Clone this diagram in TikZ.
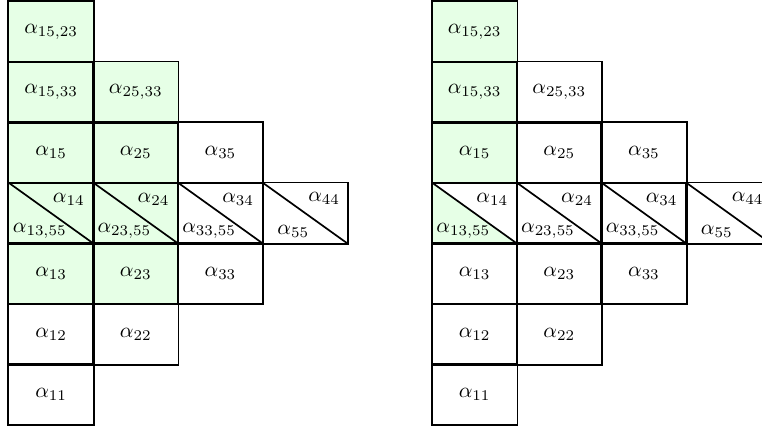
\documentclass[tikz,border=0pt]{standalone}
\definecolor{lightgreen}{RGB}{230,255,230}
\begin{document}
\begin{tikzpicture}[
  cell/.style={minimum width=1.4cm, minimum height=1cm, inner sep=0pt, anchor=south west},
  gcell/.style={cell, fill=lightgreen},
  border/.style={thick, line join=miter},
  diag/.style={thick},
  lab/.style={inner sep=0pt}
]
\useasboundingbox (-0.137,-0.044) rectangle (12.458,7.03);
\clip (-0.137,-0.044) rectangle (12.458,7.03);

% ---------- Left diagram ----------
\node[cell]  (L11) at (0,0)   {$\alpha_{11}$};
\node[cell]  (L12) at (0,1)   {$\alpha_{12}$};
\node[cell]  (L22) at (1.4,1) {$\alpha_{22}$};
\node[gcell] (L13) at (0,2)   {$\alpha_{13}$};
\node[gcell] (L23) at (1.4,2) {$\alpha_{23}$};
\node[cell]  (L33) at (2.8,2) {$\alpha_{33}$};
\node[gcell] (L14) at (0,3)   {};
\node[gcell] (L24) at (1.4,3) {};
\node[cell]  (L34) at (2.8,3) {};
\node[cell]  (L44) at (4.2,3) {};
\node[gcell] (L15) at (0,4)   {$\alpha_{15}$};
\node[gcell] (L25) at (1.4,4) {$\alpha_{25}$};
\node[cell]  (L35) at (2.8,4) {$\alpha_{35}$};
\node[gcell] (L1533) at (0,5)   {$\alpha_{15,33}$};
\node[gcell] (L2533) at (1.4,5) {$\alpha_{25,33}$};
\node[gcell] (L1523) at (0,6)   {$\alpha_{15,23}$};

% ---------- Right diagram ----------
\fill[lightgreen] (7,4) -- (8.4,3) -- (7,3) -- cycle;
\node[cell]  (R11) at (7,0)   {$\alpha_{11}$};
\node[cell]  (R12) at (7,1)   {$\alpha_{12}$};
\node[cell]  (R22) at (8.4,1) {$\alpha_{22}$};
\node[cell]  (R13) at (7,2)   {$\alpha_{13}$};
\node[cell]  (R23) at (8.4,2) {$\alpha_{23}$};
\node[cell]  (R33) at (9.8,2) {$\alpha_{33}$};
\node[cell]  (R14) at (7,3)   {};
\node[cell]  (R24) at (8.4,3) {};
\node[cell]  (R34) at (9.8,3) {};
\node[cell]  (R44) at (11.2,3) {};
\node[gcell] (R15) at (7,4)   {$\alpha_{15}$};
\node[cell]  (R25) at (8.4,4) {$\alpha_{25}$};
\node[cell]  (R35) at (9.8,4) {$\alpha_{35}$};
\node[gcell] (R1533) at (7,5)   {$\alpha_{15,33}$};
\node[cell]  (R2533) at (8.4,5) {$\alpha_{25,33}$};
\node[gcell] (R1523) at (7,6)   {$\alpha_{15,23}$};

% ---------- Borders (drawn after all fills) ----------
\foreach \c in {L11,L12,L22,L13,L23,L33,L14,L24,L34,L44,L15,L25,L35,L1533,L2533,L1523,
                R11,R12,R22,R13,R23,R33,R14,R24,R34,R44,R15,R25,R35,R1533,R2533,R1523}{
  \draw[border] (\c.south west) rectangle (\c.north east);
}

% ---------- Split cells ----------
\foreach \c in {L14,L24,L34,L44,R14,R24,R34,R44}{
  \draw[diag] (\c.north west) -- (\c.south east);
}
\node[lab] (L14u) at ([shift={(1.0,0.74)}]L14.south west) {$\alpha_{14}$};
\node[lab] (L24u) at ([shift={(1.0,0.74)}]L24.south west) {$\alpha_{24}$};
\node[lab] (L34u) at ([shift={(1.0,0.74)}]L34.south west) {$\alpha_{34}$};
\node[lab] (L44u) at ([shift={(1.02,0.75)}]L44.south west) {$\alpha_{44}$};
\node[lab] (L14d) at ([shift={(0.52,0.21)}]L14.south west) {$\alpha_{13,55}$};
\node[lab] (L24d) at ([shift={(0.52,0.21)}]L24.south west) {$\alpha_{23,55}$};
\node[lab] (L34d) at ([shift={(0.52,0.21)}]L34.south west) {$\alpha_{33,55}$};
\node[lab] (L44d) at ([shift={(0.51,0.2)}]L44.south west) {$\alpha_{55}$};

\node[lab] (R14u) at ([shift={(1.0,0.74)}]R14.south west) {$\alpha_{14}$};
\node[lab] (R24u) at ([shift={(1.0,0.74)}]R24.south west) {$\alpha_{24}$};
\node[lab] (R34u) at ([shift={(1.0,0.74)}]R34.south west) {$\alpha_{34}$};
\node[lab] (R44u) at ([shift={(1.02,0.75)}]R44.south west) {$\alpha_{44}$};
\node[lab] (R14d) at ([shift={(0.52,0.21)}]R14.south west) {$\alpha_{13,55}$};
\node[lab] (R24d) at ([shift={(0.52,0.21)}]R24.south west) {$\alpha_{23,55}$};
\node[lab] (R34d) at ([shift={(0.52,0.21)}]R34.south west) {$\alpha_{33,55}$};
\node[lab] (R44d) at ([shift={(0.51,0.2)}]R44.south west) {$\alpha_{55}$};
\end{tikzpicture}
\end{document}
